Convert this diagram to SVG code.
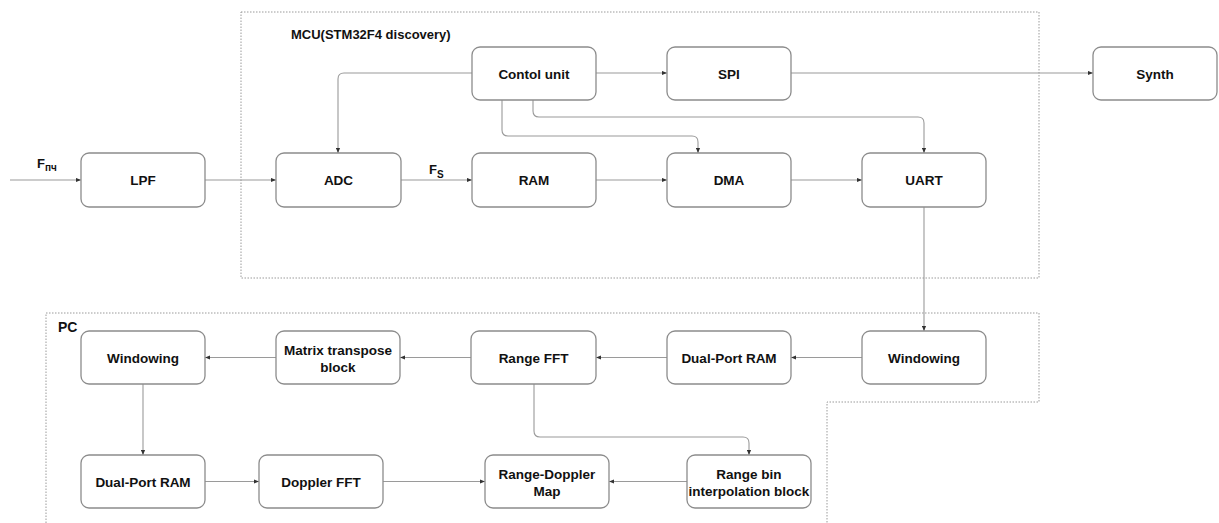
<svg xmlns="http://www.w3.org/2000/svg" width="1219" height="523" viewBox="0 0 1219 523">
<style>
.box{fill:#fff;stroke:#8c8c8c;stroke-width:1.3}
.t{font-family:"Liberation Sans",Arial,sans-serif;font-weight:bold;font-size:13.5px;fill:#111;text-anchor:middle}
.lbl{font-family:"Liberation Sans",Arial,sans-serif;font-weight:bold;fill:#111}
.c{fill:none;stroke:#9a9a9a;stroke-width:1.1;marker-end:url(#ah)}
.frame{fill:none;stroke:#9a9a9a;stroke-width:1;stroke-dasharray:1.5 1.5}
</style>
<defs>
<marker id="ah" viewBox="0 0 6 6" refX="6" refY="3" markerWidth="5" markerHeight="5" markerUnits="userSpaceOnUse" orient="auto">
<path d="M0,0.5 L6,3 L0,5.5 z" fill="#333"/>
</marker>
</defs>
<rect width="1219" height="523" fill="#fff"/>
<g id="frames">
<rect class="frame" x="241" y="12" width="798" height="266"/>
<path class="frame" d="M46,523 V313 H1039 V402 H827 V523"/>
<text class="lbl" x="291" y="39" font-size="13px">MCU(STM32F4 discovery)</text>
<text class="lbl" x="58" y="332" font-size="14px">PC</text>
</g>
<g id="connectors">
<path class="c" d="M10,180 H81"/>
<path class="c" d="M205,180 H276"/>
<path class="c" d="M401,180 H472"/>
<path class="c" d="M596,180 H667"/>
<path class="c" d="M791,180 H862"/>
<path class="c" d="M472,73 H344 Q338,73 338,79 V153"/>
<path class="c" d="M596,73 H667"/>
<path class="c" d="M791,73 H1093"/>
<path class="c" d="M502,100 V130 Q502,136 508,136 H692 Q698,136 698,142 V153"/>
<path class="c" d="M533,100 V111 Q533,117 539,117 H918 Q924,117 924,123 V153"/>
<path class="c" d="M924,207 V331"/>
<path class="c" d="M862,357.5 H791"/>
<path class="c" d="M667,357.5 H596"/>
<path class="c" d="M471,357.5 H400"/>
<path class="c" d="M276,357.5 H205"/>
<path class="c" d="M143,384 V455"/>
<path class="c" d="M534,384 V431 Q534,437 540,437 H743 Q749,437 749,443 V455"/>
<path class="c" d="M205,481.5 H259"/>
<path class="c" d="M383,481.5 H485"/>
<path class="c" d="M687,481.5 H609"/>
<text class="lbl" x="37" y="168" font-size="13px">F<tspan font-size="10px" dy="3">пч</tspan></text>
<text class="lbl" x="429" y="174" font-size="13px">F<tspan font-size="10px" dy="4">S</tspan></text>
</g>
<g id="n-lpf"><rect class="box" x="81" y="153" width="124" height="54" rx="8"/><text class="t" x="143" y="185">LPF</text></g>
<g id="n-adc"><rect class="box" x="276" y="153" width="125" height="54" rx="8"/><text class="t" x="338.5" y="185">ADC</text></g>
<g id="n-ram"><rect class="box" x="472" y="153" width="124" height="54" rx="8"/><text class="t" x="534" y="185">RAM</text></g>
<g id="n-dma"><rect class="box" x="667" y="153" width="124" height="54" rx="8"/><text class="t" x="729" y="185">DMA</text></g>
<g id="n-uart"><rect class="box" x="862" y="153" width="124" height="54" rx="8"/><text class="t" x="924" y="185">UART</text></g>
<g id="n-control"><rect class="box" x="472" y="47" width="124" height="53" rx="8"/><text class="t" x="534" y="78.5">Contol unit</text></g>
<g id="n-spi"><rect class="box" x="667" y="47" width="124" height="53" rx="8"/><text class="t" x="729" y="78.5">SPI</text></g>
<g id="n-synth"><rect class="box" x="1093" y="47" width="124" height="53" rx="8"/><text class="t" x="1155" y="78.5">Synth</text></g>
<g id="n-win-r"><rect class="box" x="862" y="331" width="124" height="53" rx="8"/><text class="t" x="924" y="362.5">Windowing</text></g>
<g id="n-dpram-r"><rect class="box" x="667" y="331" width="124" height="53" rx="8"/><text class="t" x="729" y="362.5">Dual-Port RAM</text></g>
<g id="n-rangefft"><rect class="box" x="471" y="331" width="125" height="53" rx="8"/><text class="t" x="533.5" y="362.5">Range FFT</text></g>
<g id="n-matrix"><rect class="box" x="276" y="331" width="124" height="53" rx="8"/><text class="t" x="338" y="355">Matrix transpose</text><text class="t" x="338" y="372">block</text></g>
<g id="n-win-l"><rect class="box" x="81" y="331" width="124" height="53" rx="8"/><text class="t" x="143" y="362.5">Windowing</text></g>
<g id="n-dpram-l"><rect class="box" x="81" y="455" width="124" height="53" rx="8"/><text class="t" x="143" y="486.5">Dual-Port RAM</text></g>
<g id="n-doppler"><rect class="box" x="259" y="455" width="124" height="53" rx="8"/><text class="t" x="321" y="486.5">Doppler FFT</text></g>
<g id="n-rdmap"><rect class="box" x="485" y="455" width="124" height="53" rx="8"/><text class="t" x="547" y="479">Range-Doppler</text><text class="t" x="547" y="496">Map</text></g>
<g id="n-rangebin"><rect class="box" x="687" y="455" width="124" height="53" rx="8"/><text class="t" x="749" y="479">Range bin</text><text class="t" x="749" y="496">interpolation block</text></g>
</svg>
